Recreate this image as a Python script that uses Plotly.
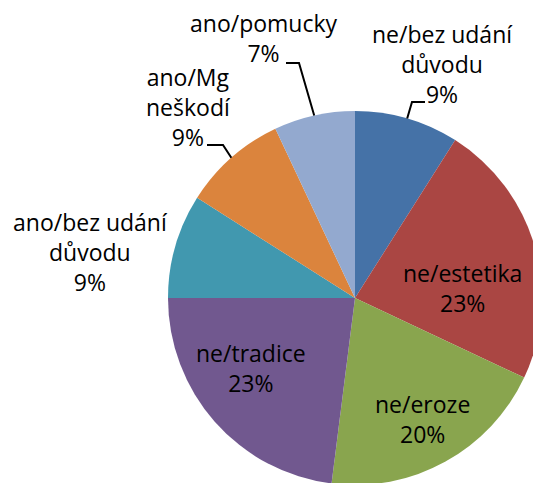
import math
import plotly.graph_objects as go

# ---- data ----
categories = ["ne/bez udání důvodu", "ne/estetika", "ne/eroze", "ne/tradice",
              "ano/bez udání důvodu", "ano/Mg neškodí", "ano/pomucky"]
shares = [9, 23, 20, 23, 9, 9, 7]
colors = ["#4572A7", "#AA4643", "#89A54E", "#71588F", "#4198AF", "#DB843D", "#93A9CF"]
label_lines = ["ne/bez udání<br>důvodu", "ne/estetika", "ne/eroze", "ne/tradice",
               "ano/bez udání<br>důvodu", "ano/Mg<br>neškodí", "ano/pomucky"]

# ---- geometry (pixels) ----
W, H = 545, 490
CX, CY, R = 355, 298, 187
FONT = dict(family="Open Sans", size=23, color="#000000")

def px(x):
    return x / W

def py(y):
    return (H - y) / H

fig = go.Figure(go.Pie(
    labels=categories,
    values=shares,
    sort=False,
    direction="clockwise",
    rotation=0,
    marker=dict(colors=colors, line=dict(width=0)),
    textinfo="none",
    hoverinfo="label+percent",
    showlegend=False,
    domain=dict(x=[px(CX - R), px(CX + R)], y=[py(CY + R), py(CY - R)]),
))

# label placement (pixels): label centre, optional leader elbow and end
placement = {
    0: dict(pos=(442, 64), elbow=(412, 102), end=(425, 102)),
    1: dict(pos=(462, 288), elbow=None, end=None),
    2: dict(pos=(422, 419), elbow=None, end=None),
    3: dict(pos=(251, 368), elbow=None, end=None),
    4: dict(pos=(90, 252), elbow=None, end=None),
    5: dict(pos=(188, 107), elbow=(223, 145), end=(207, 145)),
    6: dict(pos=(264, 38), elbow=(299, 63), end=(286, 63)),
}

total = sum(shares)
cum = 0
mids = []
for v in shares:
    mids.append((cum + v / 2) / total * 2 * math.pi)
    cum += v

annotations = []
shapes = []
for i, o in placement.items():
    txt = label_lines[i] + "<br>%d%%" % shares[i]
    x, y = o["pos"]
    annotations.append(dict(x=px(x), y=py(y), xref="paper", yref="paper",
                            text=txt, showarrow=False, font=FONT,
                            align="center", xanchor="center", yanchor="middle"))
    if o["elbow"] is not None:
        a = mids[i]
        sx = CX + R * math.sin(a)
        sy = CY - R * math.cos(a)
        ex, ey = o["elbow"]
        tx, ty = o["end"]
        path = "M %f %f L %f %f L %f %f" % (px(sx), py(sy), px(ex), py(ey), px(tx), py(ty))
        shapes.append(dict(type="path", xref="paper", yref="paper", path=path,
                           line=dict(color="#000000", width=2)))

fig.update_layout(
    width=W, height=H,
    margin=dict(l=0, r=0, t=0, b=0),
    paper_bgcolor="#FFFFFF",
    plot_bgcolor="#FFFFFF",
    font=FONT,
    annotations=annotations,
    shapes=shapes,
)

fig.write_html("out.html",
               config={"displayModeBar": False},
               post_script="document.body.style.margin='0';document.body.style.overflow='hidden';")
